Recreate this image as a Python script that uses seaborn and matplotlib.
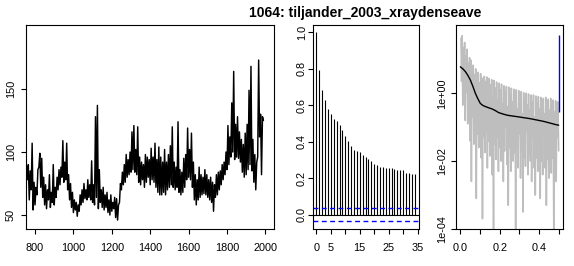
import numpy as np
import matplotlib
matplotlib.use("Agg")
import matplotlib.pyplot as plt
import seaborn as sns
from matplotlib.ticker import FixedLocator, FixedFormatter, NullLocator

# ---------------- data ----------------
title = "1064: tiljander_2003_xraydenseave"

# time series, 5-year steps starting at 755
ts_start, ts_step = 755, 5
ts_values = [
    88,
    78, 90, 62, 85, 70, 107, 54, 76, 58, 72, 66, 86, 88, 99, 72, 95, 64, 80, 58, 74,
    55, 70, 62, 82, 56, 68, 60, 90, 58, 72, 64, 80, 70, 86, 74, 88, 80, 109, 76, 92,
    78, 107, 70, 82, 62, 75, 56, 68, 52, 62, 54, 60, 49, 58, 53, 66, 58, 70, 60, 75,
    63, 70, 62, 78, 64, 74, 62, 93, 60, 74, 58, 128, 64, 137, 55, 86, 60, 70, 56, 72,
    54, 66, 56, 68, 52, 62, 50, 66, 53, 60, 55, 64, 48, 63, 46, 58, 60, 75, 70, 84,
    74, 90, 76, 98, 80, 94, 82, 100, 84, 116, 86, 121, 84, 102, 82, 120, 76, 96, 74, 92,
    78, 90, 72, 98, 76, 96, 80, 94, 74, 103, 78, 96, 76, 107, 72, 94, 68, 104, 66, 96,
    66, 92, 68, 102, 66, 92, 70, 98, 72, 105, 74, 120, 72, 92, 70, 88, 72, 124, 68, 86,
    66, 84, 68, 95, 72, 98, 78, 119, 80, 102, 78, 115, 72, 92, 62, 82, 58, 78, 62, 88,
    64, 82, 66, 80, 67, 86, 66, 82, 64, 78, 62, 80, 60, 76, 53, 74, 64, 82, 66, 84,
    70, 85, 74, 90, 78, 92, 82, 100, 86, 121, 90, 112, 96, 139, 100, 164, 94, 122, 96, 128,
    95, 116, 92, 110, 84, 106, 80, 115, 82, 122, 86, 149, 90, 168, 85, 110, 76, 98, 70, 92,
    96, 173, 112, 130, 82, 128,
    125,
]

# autocorrelation, lags 0..34
acf_vals = [1.0, 0.793, 0.683, 0.628, 0.578, 0.551, 0.524, 0.513, 0.49, 0.463,
            0.43, 0.402, 0.375, 0.353, 0.347, 0.342, 0.325, 0.314, 0.303, 0.297,
            0.28, 0.27, 0.26, 0.26, 0.255, 0.255, 0.255, 0.249, 0.243, 0.243,
            0.243, 0.227, 0.227, 0.221, 0.221]
acf_clim = 0.034

# raw periodogram (log10), frequencies k/320
pgram_log10 = [
    1.62, 0.35, 1.70, -0.35, 1.35, 0.60, 1.50, -0.80, 1.10, 0.05,
    1.30, -0.90, 0.90, -0.25, 1.05, -1.40, 0.98, -2.60, 0.70, -0.70,
    0.83, -1.50, 0.55, -0.95, 0.72, -3.10, 0.40, -1.20, 0.62, -1.60,
    0.30, -1.05, 0.58, -1.90, 0.45, -3.70, 0.20, -1.30, 0.50, -1.75,
    0.35, -1.15, 0.48, -2.20, 0.05, -1.40, 0.44, -1.85, 0.25, -1.20,
    0.40, -2.40, -0.10, -4.00, 0.38, -1.50, 0.15, -1.95, 0.33, -1.30,
    -0.20, -2.30, 0.30, -1.60, 0.10, -2.00, 0.27, -1.45, -0.30, -2.60,
    0.22, -1.70, 0.05, -1.00, 0.20, -2.10, -0.40, -3.30, 0.18, -1.60,
    -0.05, -2.30, 0.15, -1.10, -0.25, -2.00, 0.12, -1.75, 0.00, -4.00,
    0.10, -1.65, -0.45, -2.20, 0.08, -1.20, -0.15, -2.50, 0.05, -1.70,
    -0.60, -3.50, 0.02, -1.90, -0.20, -2.15, 0.00, -1.10, -0.35, -2.40,
    -0.02, -1.85, -0.50, -2.00, -0.05, -2.60, -0.25, -1.30, -0.05, -2.20,
    -0.70, -3.00, -0.08, -1.90, -0.30, -2.30, -0.10, -1.20, -0.45, -3.10,
    -0.12, -2.00, -0.35, -2.40, -0.15, -1.30, -0.60, -2.20, -0.12, -3.30,
    -0.40, -1.95, -0.18, -2.50, -0.50, -1.40, -0.15, -2.35, -0.35, -1.90,
    -0.20, -4.00, -0.55, -2.10, -0.22, -2.60, -0.30, -1.30, -0.25, -1.70,
]

# smoothed spectrum
smooth_freq = [0.0, 0.0128, 0.0256, 0.038, 0.051, 0.064, 0.0764, 0.089, 0.1018,
               0.115, 0.127, 0.145, 0.161, 0.178, 0.195, 0.222, 0.242, 0.29,
               0.357, 0.425, 0.49, 0.5]
smooth_log10 = [0.78, 0.72, 0.64, 0.53, 0.39, 0.20, 0.0, -0.16, -0.30,
                -0.36, -0.39, -0.43, -0.46, -0.51, -0.57, -0.62, -0.65, -0.69,
                -0.75, -0.83, -0.93, -0.94]

# confidence bar on spectrum
ci_freq = 0.5
ci_range = [0.277, 51.5]

# ---------------- figure ----------------
sns.set_theme(style="white")
plt.rcParams['font.family'] = ['Liberation Sans', 'DejaVu Sans']

W, H = 574, 266
fig = plt.figure(figsize=(W / 100, H / 100), dpi=100)


def ax_at(l, r, t, b):
    return fig.add_axes([l / W, 1 - b / H, (r - l) / W, (b - t) / H])


def style(ax, ypad):
    for s in ax.spines.values():
        s.set_color('black')
        s.set_linewidth(0.8)
        s.set_visible(True)
    ax.tick_params(axis='both', direction='out', length=3.6, width=0.8,
                   colors='black', labelsize=7.8, bottom=True, left=True)
    ax.tick_params(axis='x', pad=6.5)
    ax.tick_params(axis='y', pad=ypad, labelrotation=90)
    for lab in ax.get_yticklabels():
        lab.set_va('center')
    ax.set_xlabel('')
    ax.set_ylabel('')
    ax.grid(False)


ax1 = ax_at(26, 274, 25, 229)
ax2 = ax_at(312.5, 418.7, 25, 229)
ax3 = ax_at(456.4, 562.6, 25, 229)

# panel 1: time series
years = np.arange(ts_start, ts_start + ts_step * len(ts_values), ts_step)
sns.lineplot(x=years, y=ts_values, ax=ax1, color='black', linewidth=1.05,
             estimator=None, sort=False)
ax1.set_xlim(753, 2045)
ax1.set_ylim(38.9, 200.8)
ax1.xaxis.set_major_locator(FixedLocator([800, 1000, 1200, 1400, 1600, 1800, 2000]))
ax1.yaxis.set_major_locator(FixedLocator([50, 100, 150]))
style(ax1, 3.6)

# panel 2: ACF
lags = np.arange(len(acf_vals))
ax2.vlines(lags, 0, acf_vals, color='black', linewidth=0.8)
ax2.axhline(0, color='black', linewidth=0.8)
for c in (acf_clim, -acf_clim):
    ax2.axhline(c, color='#0000FF', linewidth=1.0, linestyle=(0, (3.5, 2.5)))
ax2.set_xlim(-1.36, 35.4)
ax2.set_ylim(-0.079, 1.041)
ax2.xaxis.set_major_locator(FixedLocator([0, 5, 10, 15, 20, 25, 30, 35]))
ax2.xaxis.set_major_formatter(FixedFormatter(['0', '5', '', '15', '', '25', '', '35']))
ax2.yaxis.set_major_locator(FixedLocator([0.0, 0.2, 0.4, 0.6, 0.8, 1.0]))
ax2.yaxis.set_major_formatter(FixedFormatter(['0.0', '0.2', '0.4', '0.6', '0.8', '1.0']))
style(ax2, 0.6)

# panel 3: spectrum
ax3.set_yscale('log')
n = len(pgram_log10)
freqs = np.arange(1, n + 1) / (2 * n)
sns.lineplot(x=freqs, y=np.power(10.0, pgram_log10), ax=ax3, color='#BEBEBE',
             linewidth=1.15, estimator=None, sort=False)
sns.lineplot(x=smooth_freq, y=np.power(10.0, smooth_log10), ax=ax3, color='black',
             linewidth=1.0, estimator=None, sort=False)
ax3.vlines([ci_freq], ci_range[0], ci_range[1], color='#0000FF', linewidth=1.0)
ax3.set_xlim(-0.02, 0.52)
ax3.set_ylim(1e-4, 1.03e2)
ax3.xaxis.set_major_locator(FixedLocator([0.0, 0.1, 0.2, 0.3, 0.4, 0.5]))
ax3.xaxis.set_major_formatter(FixedFormatter(['0.0', '', '0.2', '', '0.4', '']))
ax3.yaxis.set_major_locator(FixedLocator([1e-4, 1e-2, 1e0]))
ax3.yaxis.set_major_formatter(FixedFormatter(['1e-04', '1e-02', '1e+00']))
ax3.yaxis.set_minor_locator(NullLocator())
style(ax3, 3.3)

fig.text(365 / W, 1 - 13 / H, title, ha='center', va='center',
         fontsize=10, fontweight='bold', color='black')

fig.savefig('out.png', dpi=100, facecolor='white')
